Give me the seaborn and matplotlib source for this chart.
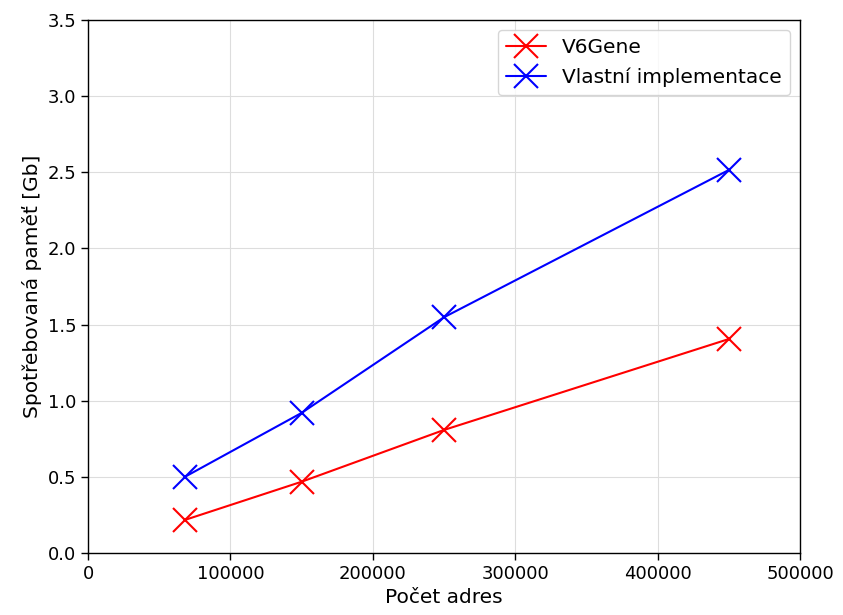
import matplotlib
matplotlib.use("Agg")
import matplotlib.pyplot as plt
import seaborn as sns
import pandas as pd

# Number of addresses and memory consumption for both generators
pocet_adres = [68000, 150000, 250000, 450000]
v6gene_gb = [0.217, 0.468, 0.808, 1.405]
vlastni_gb = [0.50, 0.92, 1.548, 2.515]
serie = ["V6Gene", "Vlastní implementace"]
barvy = ["red", "blue"]

df = pd.concat([
    pd.DataFrame({"x": pocet_adres, "y": v6gene_gb, "serie": serie[0]}),
    pd.DataFrame({"x": pocet_adres, "y": vlastni_gb, "serie": serie[1]}),
])

sns.set_style("white")
plt.rcParams["font.family"] = ["DejaVu Sans"]
plt.rcParams["text.color"] = "black"
plt.rcParams["axes.labelcolor"] = "black"

fig, ax = plt.subplots(figsize=(8.43, 6.15), dpi=100)
fig.subplots_adjust(left=0.1044, right=0.949, top=0.9675, bottom=0.1008)

sns.lineplot(data=df, x="x", y="y", hue="serie", palette=barvy,
             hue_order=serie, marker="x", markersize=17,
             markeredgewidth=1.5, linewidth=1.5, ax=ax, legend=False)

# x markers need their edge in the series colour
for line in ax.get_lines():
    line.set_markeredgecolor(line.get_color())

ax.set_xlim(0, 500000)
ax.set_ylim(0, 3.5)
ax.set_xticks([0, 100000, 200000, 300000, 400000, 500000])
ax.set_xticklabels(["0", "100000", "200000", "300000", "400000", "500000"])
ax.set_yticks([0, 0.5, 1.0, 1.5, 2.0, 2.5, 3.0, 3.5])
ax.set_yticklabels(["0.0", "0.5", "1.0", "1.5", "2.0", "2.5", "3.0", "3.5"])
ax.grid(True, color="#dddddd", linewidth=0.8)
ax.set_axisbelow(True)
for s in ax.spines.values():
    s.set_color("black")
    s.set_linewidth(1.0)
ax.tick_params(axis="both", direction="out", length=5, width=1, colors="black",
               labelsize=13, bottom=True, left=True)
ax.set_xlabel("Počet adres", fontsize=14.5)
ax.set_ylabel("Spotřebovaná paměť [Gb]", fontsize=14.5)

leg = ax.legend(ax.get_lines()[:2], serie, loc="upper right", fontsize=14.5,
                frameon=True, bbox_to_anchor=(1.0, 1.0), handlelength=2.0)
leg.get_frame().set_edgecolor("#cccccc")

fig.savefig("out.png", dpi=100)
